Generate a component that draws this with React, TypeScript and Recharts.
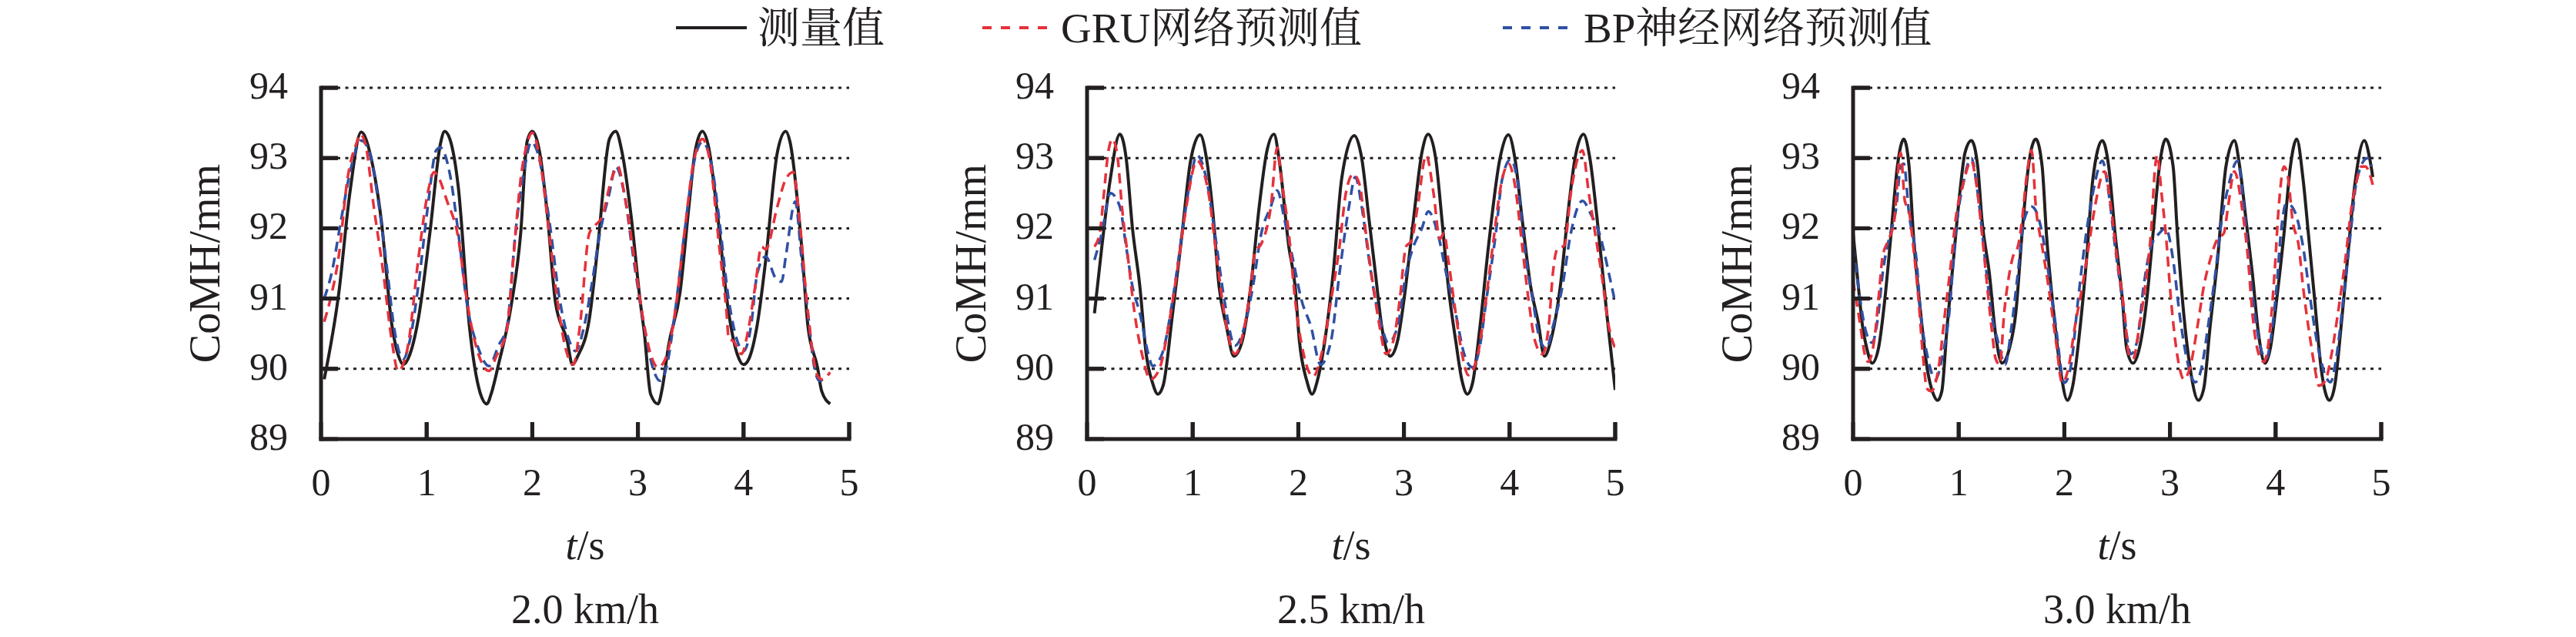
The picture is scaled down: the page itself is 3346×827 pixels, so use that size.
import React from 'react'
import { LineChart, Line, XAxis, YAxis, CartesianGrid } from 'recharts'

const FONT = '"Liberation Serif", "Noto Serif CJK SC", "Noto Sans CJK SC", serif'
const INK = '#231f20'
const RED = '#e5323b'
const BLUE = '#2f50a3'

const T_TICKS = [0, 1, 2, 3, 4, 5]
const V_TICKS = [89, 90, 91, 92, 93, 94]
const SPEEDS = ['2.0 km/h', '2.5 km/h', '3.0 km/h']
const LEGEND_NAMES = ['测量值', 'GRU网络预测值', 'BP神经网络预测值']

// 2.0 km/h
const t20Meas = [0.03, 0.17, 0.27, 0.38, 0.48, 0.57, 0.67, 0.73, 0.78, 0.84, 0.92, 1.03, 1.13, 1.17, 1.22, 1.3, 1.405, 1.51, 1.57, 1.61, 1.68, 1.8, 1.89, 1.95, 2.0, 2.07, 2.14, 2.22, 2.33, 2.38, 2.43, 2.54, 2.62, 2.73, 2.79, 2.85, 2.94, 3.02, 3.06, 3.12, 3.19, 3.23, 3.29, 3.4, 3.48, 3.54, 3.61, 3.67, 3.75, 3.86, 3.94, 4.0, 4.05, 4.13, 4.21, 4.32, 4.4, 4.44, 4.55, 4.61, 4.7, 4.74, 4.82]
const v20Meas = [89.85, 91.1, 92.47, 93.37, 92.96, 92.12, 90.63, 90.2, 90.06, 90.2, 90.7, 91.93, 93.2, 93.38, 93.27, 92.58, 90.6, 89.64, 89.5, 89.64, 90.06, 90.9, 91.93, 93.23, 93.38, 93.08, 92.24, 90.94, 90.4, 90.06, 90.18, 90.71, 91.74, 93.27, 93.38, 93.08, 92.12, 90.98, 90.52, 89.64, 89.5, 89.72, 90.33, 91.1, 92.27, 93.08, 93.38, 93.15, 92.24, 90.79, 90.21, 90.06, 90.14, 90.63, 91.55, 93.08, 93.38, 93.23, 91.74, 90.6, 90.02, 89.68, 89.5]
const t20Gru = [0.03, 0.08, 0.17, 0.25, 0.34, 0.37, 0.42, 0.5, 0.59, 0.67, 0.73, 0.82, 0.92, 1.01, 1.07, 1.11, 1.19, 1.3, 1.38, 1.49, 1.59, 1.66, 1.76, 1.82, 1.89, 1.95, 2.0, 2.07, 2.16, 2.24, 2.33, 2.39, 2.45, 2.54, 2.6, 2.66, 2.75, 2.81, 2.87, 2.96, 3.04, 3.12, 3.19, 3.27, 3.35, 3.44, 3.52, 3.61, 3.69, 3.77, 3.84, 3.86, 3.9, 3.98, 4.05, 4.11, 4.17, 4.21, 4.32, 4.4, 4.47, 4.53, 4.61, 4.7, 4.74, 4.82]
const v20Gru = [90.67, 90.94, 91.63, 92.7, 93.23, 93.34, 93.2, 92.3, 91.36, 90.4, 89.97, 90.3, 91.55, 92.5, 92.8, 92.73, 92.4, 91.86, 90.98, 90.21, 89.97, 90.18, 90.56, 91.55, 92.7, 93.2, 93.36, 93.0, 91.93, 90.94, 90.21, 90.06, 90.6, 91.93, 92.05, 92.16, 92.7, 92.88, 92.5, 91.63, 90.79, 90.21, 90.02, 90.18, 90.79, 91.93, 92.88, 93.27, 92.88, 91.74, 90.79, 90.42, 90.4, 90.21, 90.6, 91.17, 91.74, 91.7, 92.31, 92.7, 92.8, 92.12, 90.79, 89.9, 89.85, 89.95]
const t20Bp = [0.03, 0.1, 0.19, 0.29, 0.38, 0.46, 0.55, 0.63, 0.69, 0.78, 0.84, 0.92, 1.01, 1.09, 1.13, 1.22, 1.3, 1.38, 1.49, 1.59, 1.68, 1.76, 1.84, 1.93, 1.99, 2.05, 2.16, 2.26, 2.35, 2.41, 2.49, 2.56, 2.64, 2.73, 2.79, 2.87, 2.96, 3.06, 3.14, 3.21, 3.27, 3.35, 3.44, 3.54, 3.61, 3.71, 3.77, 3.86, 3.94, 4.0, 4.07, 4.13, 4.21, 4.3, 4.36, 4.4, 4.49, 4.55, 4.61, 4.67, 4.72, 4.78]
const v20Bp = [91.0, 91.36, 92.12, 92.9, 93.25, 93.08, 92.3, 91.36, 90.6, 90.14, 90.4, 91.17, 92.3, 93.11, 93.15, 92.77, 91.93, 90.94, 90.29, 90.04, 90.33, 90.6, 91.93, 92.88, 93.23, 93.08, 92.12, 90.98, 90.4, 90.25, 90.6, 91.17, 91.93, 92.5, 92.88, 92.5, 91.55, 90.6, 90.02, 89.83, 90.02, 90.79, 91.93, 93.0, 93.23, 92.8, 92.12, 90.98, 90.4, 90.25, 90.6, 91.36, 91.6, 91.3, 91.24, 91.6, 92.38, 91.55, 90.79, 90.02, 89.83, 89.87]

// 2.5 km/h
const t25Meas = [0.07, 0.14, 0.22, 0.31, 0.37, 0.43, 0.5, 0.56, 0.62, 0.67, 0.72, 0.81, 0.9, 0.98, 1.07, 1.13, 1.19, 1.25, 1.32, 1.39, 1.47, 1.55, 1.63, 1.7, 1.77, 1.82, 1.91, 1.97, 2.01, 2.08, 2.13, 2.18, 2.27, 2.33, 2.41, 2.53, 2.6, 2.67, 2.73, 2.79, 2.87, 2.94, 3.0, 3.09, 3.17, 3.23, 3.3, 3.36, 3.42, 3.49, 3.55, 3.6, 3.65, 3.72, 3.8, 3.91, 3.99, 4.05, 4.12, 4.2, 4.27, 4.33, 4.39, 4.48, 4.56, 4.62, 4.7, 4.76, 4.83, 4.92, 5.0]
const v25Meas = [90.79, 91.74, 92.7, 93.34, 93.0, 92.0, 91.17, 90.21, 89.8, 89.64, 89.76, 90.79, 91.93, 92.96, 93.33, 93.0, 92.24, 91.17, 90.6, 90.18, 90.4, 91.17, 92.31, 93.08, 93.34, 92.96, 91.74, 91.17, 90.4, 89.83, 89.64, 89.83, 90.6, 91.36, 92.7, 93.32, 93.0, 92.12, 91.36, 90.6, 90.18, 90.4, 90.98, 92.12, 93.08, 93.34, 93.0, 92.12, 91.17, 90.4, 89.83, 89.64, 89.8, 90.6, 91.74, 93.0, 93.33, 93.0, 92.12, 91.17, 90.67, 90.18, 90.4, 91.17, 92.31, 93.0, 93.34, 93.0, 92.12, 90.79, 89.7]
const t25Gru = [0.07, 0.12, 0.16, 0.2, 0.24, 0.29, 0.33, 0.39, 0.45, 0.52, 0.6, 0.69, 0.77, 0.85, 0.94, 1.04, 1.15, 1.23, 1.32, 1.4, 1.49, 1.55, 1.59, 1.65, 1.74, 1.8, 1.84, 1.91, 1.97, 2.05, 2.14, 2.22, 2.31, 2.39, 2.45, 2.52, 2.58, 2.64, 2.71, 2.77, 2.83, 2.9, 2.96, 3.02, 3.07, 3.13, 3.21, 3.28, 3.34, 3.38, 3.42, 3.49, 3.55, 3.61, 3.7, 3.76, 3.84, 3.93, 3.99, 4.05, 4.12, 4.18, 4.24, 4.31, 4.37, 4.41, 4.45, 4.52, 4.58, 4.69, 4.75, 4.81, 4.87, 4.94, 5.0]
const v25Gru = [91.74, 91.93, 92.5, 93.08, 93.27, 93.0, 92.31, 91.55, 90.79, 90.21, 89.85, 90.02, 90.6, 91.36, 92.31, 92.96, 92.5, 91.55, 90.6, 90.21, 90.6, 91.17, 91.66, 91.78, 92.31, 93.15, 92.7, 91.93, 90.98, 90.21, 89.89, 90.21, 90.98, 91.74, 92.5, 92.77, 92.62, 91.93, 91.17, 90.6, 90.21, 90.4, 90.98, 91.74, 91.82, 92.31, 93.04, 92.5, 91.85, 91.93, 91.55, 90.79, 90.21, 89.91, 90.21, 90.79, 91.74, 92.7, 92.92, 92.62, 91.74, 90.98, 90.4, 90.21, 90.6, 91.36, 91.7, 91.76, 92.5, 93.11, 92.5, 91.93, 91.36, 90.6, 90.29]
const t25Bp = [0.07, 0.14, 0.22, 0.31, 0.37, 0.43, 0.5, 0.58, 0.62, 0.71, 0.81, 0.9, 0.98, 1.04, 1.13, 1.21, 1.3, 1.4, 1.49, 1.57, 1.65, 1.74, 1.8, 1.87, 1.95, 2.03, 2.12, 2.21, 2.31, 2.39, 2.48, 2.54, 2.6, 2.67, 2.73, 2.79, 2.85, 2.94, 3.02, 3.09, 3.17, 3.23, 3.32, 3.4, 3.49, 3.57, 3.65, 3.72, 3.78, 3.87, 3.93, 4.01, 4.08, 4.14, 4.22, 4.29, 4.35, 4.41, 4.5, 4.58, 4.69, 4.77, 4.85, 4.94, 5.0]
const v25Bp = [91.55, 91.93, 92.5, 92.31, 91.74, 91.17, 90.79, 90.21, 90.04, 90.21, 90.98, 91.93, 92.7, 93.04, 92.7, 91.93, 90.98, 90.33, 90.6, 91.17, 91.93, 92.31, 92.54, 92.12, 91.55, 90.98, 90.6, 90.06, 90.4, 91.36, 92.31, 92.73, 92.31, 91.55, 90.98, 90.6, 90.37, 90.6, 91.36, 91.74, 92.0, 92.24, 91.93, 91.36, 90.79, 90.21, 90.02, 90.33, 90.98, 91.93, 92.7, 92.98, 92.62, 91.74, 90.98, 90.4, 90.29, 90.6, 91.17, 91.93, 92.39, 92.2, 91.93, 91.36, 90.94]

// 3.0 km/h
const t30Meas = [0.0, 0.05, 0.09, 0.13, 0.18, 0.24, 0.3, 0.36, 0.42, 0.48, 0.53, 0.57, 0.64, 0.7, 0.76, 0.8, 0.84, 0.89, 0.95, 1.01, 1.06, 1.12, 1.18, 1.22, 1.29, 1.35, 1.41, 1.48, 1.54, 1.6, 1.66, 1.73, 1.79, 1.83, 1.9, 1.96, 2.03, 2.08, 2.15, 2.21, 2.27, 2.36, 2.42, 2.48, 2.55, 2.59, 2.65, 2.71, 2.78, 2.84, 2.9, 2.96, 3.03, 3.07, 3.13, 3.19, 3.27, 3.32, 3.38, 3.45, 3.53, 3.61, 3.66, 3.72, 3.78, 3.84, 3.9, 3.95, 4.01, 4.08, 4.14, 4.2, 4.26, 4.31, 4.37, 4.43, 4.51, 4.56, 4.62, 4.68, 4.75, 4.84, 4.89, 4.92]
const v30Meas = [91.93, 91.17, 90.6, 90.29, 90.08, 90.29, 90.98, 91.93, 92.89, 93.27, 92.88, 91.93, 90.79, 90.02, 89.64, 89.55, 89.68, 90.6, 91.55, 92.5, 93.08, 93.25, 92.88, 92.12, 91.36, 90.48, 90.08, 90.29, 90.79, 91.93, 92.88, 93.27, 92.88, 91.93, 90.79, 90.02, 89.55, 89.76, 90.6, 91.55, 92.7, 93.25, 92.88, 91.93, 90.98, 90.29, 90.08, 90.29, 90.98, 91.93, 92.88, 93.27, 92.88, 91.93, 90.79, 90.02, 89.55, 89.72, 90.6, 91.55, 92.88, 93.25, 92.88, 92.12, 91.36, 90.48, 90.08, 90.29, 90.98, 91.93, 92.88, 93.27, 92.7, 91.93, 90.98, 90.02, 89.55, 89.76, 90.6, 91.55, 92.62, 93.25, 93.0, 92.73]
const t30Gru = [0.0, 0.03, 0.07, 0.11, 0.14, 0.2, 0.24, 0.28, 0.34, 0.39, 0.43, 0.45, 0.49, 0.53, 0.57, 0.62, 0.66, 0.7, 0.74, 0.81, 0.87, 0.93, 0.97, 1.04, 1.12, 1.16, 1.22, 1.27, 1.31, 1.35, 1.39, 1.43, 1.48, 1.52, 1.56, 1.6, 1.64, 1.69, 1.73, 1.79, 1.85, 1.92, 1.98, 2.04, 2.1, 2.17, 2.23, 2.29, 2.38, 2.44, 2.5, 2.57, 2.61, 2.65, 2.71, 2.78, 2.82, 2.86, 2.88, 2.92, 2.96, 3.01, 3.05, 3.09, 3.13, 3.19, 3.26, 3.32, 3.38, 3.45, 3.51, 3.55, 3.61, 3.68, 3.74, 3.78, 3.84, 3.89, 3.95, 3.99, 4.03, 4.08, 4.12, 4.16, 4.22, 4.26, 4.33, 4.37, 4.41, 4.47, 4.53, 4.59, 4.66, 4.72, 4.76, 4.81, 4.85, 4.92]
const v30Gru = [91.25, 90.98, 90.6, 90.21, 90.1, 90.4, 90.98, 91.6, 91.85, 92.12, 92.88, 93.08, 92.39, 92.24, 91.74, 90.98, 90.21, 89.72, 89.68, 90.02, 90.79, 91.55, 92.12, 92.62, 92.96, 92.7, 91.93, 91.17, 90.6, 90.14, 90.06, 90.79, 91.36, 91.63, 91.74, 92.12, 92.7, 93.11, 92.31, 91.74, 91.17, 90.4, 89.8, 90.02, 90.6, 91.17, 91.74, 92.31, 92.81, 92.31, 91.55, 90.79, 90.21, 90.14, 90.6, 91.36, 91.93, 92.88, 93.04, 92.5, 91.93, 90.98, 90.4, 90.02, 89.85, 90.02, 90.6, 91.17, 91.55, 91.85, 91.93, 92.31, 92.81, 92.31, 91.55, 90.79, 90.21, 90.1, 90.6, 91.36, 92.31, 92.88, 92.7, 92.12, 91.74, 91.17, 90.4, 90.02, 89.76, 89.83, 90.21, 90.79, 91.55, 92.31, 92.62, 92.88, 92.88, 92.62]
const t30Bp = [0.0, 0.05, 0.11, 0.18, 0.24, 0.28, 0.34, 0.41, 0.45, 0.48, 0.53, 0.6, 0.64, 0.7, 0.78, 0.85, 0.91, 0.97, 1.04, 1.12, 1.18, 1.25, 1.31, 1.37, 1.44, 1.5, 1.56, 1.62, 1.69, 1.73, 1.79, 1.85, 1.92, 2.0, 2.06, 2.13, 2.19, 2.27, 2.36, 2.42, 2.48, 2.55, 2.63, 2.69, 2.75, 2.82, 2.9, 2.96, 3.03, 3.09, 3.15, 3.24, 3.3, 3.36, 3.43, 3.49, 3.55, 3.64, 3.7, 3.76, 3.82, 3.91, 3.97, 4.01, 4.05, 4.1, 4.14, 4.2, 4.26, 4.33, 4.39, 4.52, 4.58, 4.64, 4.71, 4.77, 4.87, 4.91]
const v30Bp = [91.74, 91.17, 90.6, 90.37, 90.79, 91.36, 91.85, 92.31, 92.88, 92.92, 92.2, 91.55, 90.79, 90.21, 89.85, 90.21, 90.79, 91.93, 92.62, 93.0, 92.5, 91.55, 90.79, 90.4, 90.06, 90.6, 91.36, 92.12, 92.31, 92.25, 91.93, 91.36, 90.6, 89.8, 90.02, 90.98, 91.74, 92.5, 92.96, 92.5, 91.74, 90.98, 90.21, 90.4, 91.17, 91.74, 91.93, 92.0, 91.55, 90.79, 90.21, 89.81, 90.02, 90.6, 91.36, 92.12, 92.58, 92.96, 92.31, 91.36, 90.6, 90.14, 90.6, 91.17, 91.93, 92.35, 92.33, 92.16, 91.74, 90.98, 90.4, 89.81, 90.21, 90.98, 91.93, 92.7, 93.0, 92.88]

const toPoints = (t: number[], v: number[]) => t.map((x, i) => ({ t: x, v: v[i] }))

const PANELS = [
  { meas: toPoints(t20Meas, v20Meas), gru: toPoints(t20Gru, v20Gru), bp: toPoints(t20Bp, v20Bp) },
  { meas: toPoints(t25Meas, v25Meas), gru: toPoints(t25Gru, v25Gru), bp: toPoints(t25Bp, v25Bp) },
  { meas: toPoints(t30Meas, v30Meas), gru: toPoints(t30Gru, v30Gru), bp: toPoints(t30Bp, v30Bp) },
]

// chart box layout (each panel svg is 1130 x 827)
const CHART_W = 1130
const CHART_H = 827
const Y_AXIS_W = 417
const X_AXIS_H = 60
const MARGIN = { top: 114, right: 27, bottom: 197, left: 0 }
const PLOT_LEFT = MARGIN.left + Y_AXIS_W
const PLOT_BOTTOM = CHART_H - MARGIN.bottom - X_AXIS_H
const TICK_LEN = 22
const AXIS_STYLE = { stroke: INK, strokeWidth: 5, strokeLinecap: 'square' as const }

const XTick = (props: any) => {
  const { x, payload } = props
  return (
    <g>
      {payload.value > 0 && (
        <rect x={x - 2.5} y={PLOT_BOTTOM - TICK_LEN} width={5} height={TICK_LEN} fill={INK} />
      )}
      <text x={x} y={PLOT_BOTTOM + 37} dy="0.71em" textAnchor="middle" fill={INK} fontSize={50} fontFamily={FONT}>
        {payload.value}
      </text>
    </g>
  )
}

const YTick = (props: any) => {
  const { y, payload } = props
  return (
    <g>
      {payload.value > 89 && (
        <rect x={PLOT_LEFT} y={y - 2.5} width={TICK_LEN} height={5} fill={INK} />
      )}
      <text x={PLOT_LEFT - 43} y={y} dy="0.28em" textAnchor="end" fill={INK} fontSize={50} fontFamily={FONT}>
        {payload.value}
      </text>
    </g>
  )
}

const XLabels = (props: any) => {
  const vb = props.viewBox || { x: PLOT_LEFT, y: PLOT_BOTTOM, width: 686, height: X_AXIS_H }
  const cx = vb.x + vb.width / 2
  return (
    <g fill={INK} fontFamily={FONT}>
      <text x={cx} y={PLOT_BOTTOM + 156} textAnchor="middle" fontSize={54}>
        <tspan fontStyle="italic">t</tspan>/s
      </text>
      <text x={cx} y={PLOT_BOTTOM + 239} textAnchor="middle" fontSize={54}>
        {props.title}
      </text>
    </g>
  )
}

const YLabel = (props: any) => {
  const vb = props.viewBox || { x: 0, y: MARGIN.top, width: Y_AXIS_W, height: PLOT_BOTTOM - MARGIN.top }
  const cx = vb.x + 285
  const cy = vb.y + vb.height / 2
  return (
    <text x={cx} y={cy} textAnchor="middle" fontSize={56} fill={INK} fontFamily={FONT}
      transform={`rotate(-90, ${cx}, ${cy})`}>
      CoMH/mm
    </text>
  )
}

function Panel({ title, meas, gru, bp }: any) {
  return (
    <LineChart width={CHART_W} height={CHART_H} margin={MARGIN}>
      <CartesianGrid vertical={false} stroke={INK} strokeWidth={3} strokeDasharray="4 6.5" />
      <XAxis
        type="number"
        dataKey="t"
        domain={[0, 5]}
        ticks={T_TICKS}
        allowDataOverflow
        height={X_AXIS_H}
        axisLine={AXIS_STYLE}
        tickLine={{ stroke: INK, strokeWidth: 5 }}
        tickSize={-TICK_LEN}
        tick={(p: any) => <XTick {...p} />}
        label={<XLabels title={title} />}
      />
      <YAxis
        type="number"
        domain={[89, 94]}
        ticks={V_TICKS}
        allowDataOverflow
        width={Y_AXIS_W}
        axisLine={AXIS_STYLE}
        tickLine={{ stroke: INK, strokeWidth: 5 }}
        tickSize={-TICK_LEN}
        tick={(p: any) => <YTick {...p} />}
        label={<YLabel />}
      />
      <Line data={meas} dataKey="v" type="monotone" stroke={INK} strokeWidth={4} dot={false} isAnimationActive={false} />
      <Line data={bp} dataKey="v" type="monotone" stroke={BLUE} strokeWidth={3.5} strokeDasharray="13 8" dot={false} isAnimationActive={false} />
      <Line data={gru} dataKey="v" type="monotone" stroke={RED} strokeWidth={3.5} strokeDasharray="13 8" dot={false} isAnimationActive={false} />
    </LineChart>
  )
}

function Legend() {
  const items = [
    { name: LEGEND_NAMES[0], color: INK, x1: 878, x2: 970, tx: 984, dash: undefined },
    { name: LEGEND_NAMES[1], color: RED, x1: 1276, x2: 1370, tx: 1378, dash: '12 12' },
    { name: LEGEND_NAMES[2], color: BLUE, x1: 1952, x2: 2045, tx: 2057, dash: '12 12' },
  ]
  return (
    <svg width={3346} height={80} style={{ position: 'absolute', left: 0, top: 0 }}>
      {items.map((it) => (
        <g key={it.name}>
          <line x1={it.x1} x2={it.x2} y1={36} y2={36} stroke={it.color} strokeWidth={4} strokeDasharray={it.dash} />
          <text x={it.tx} y={36} dominantBaseline="central" fontSize={55} fill={INK} fontFamily={FONT}>
            {it.name}
          </text>
        </g>
      ))}
    </svg>
  )
}

export default function App() {
  return (
    <div style={{ position: 'absolute', left: 0, top: 0, width: 3346, height: 827, background: '#fff', overflow: 'hidden' }}>
      {PANELS.map((p, i) => (
        <div key={SPEEDS[i]} style={{ position: 'absolute', left: i * 995, top: 0 }}>
          <Panel title={SPEEDS[i]} meas={p.meas} gru={p.gru} bp={p.bp} />
        </div>
      ))}
      <Legend />
    </div>
  )
}
